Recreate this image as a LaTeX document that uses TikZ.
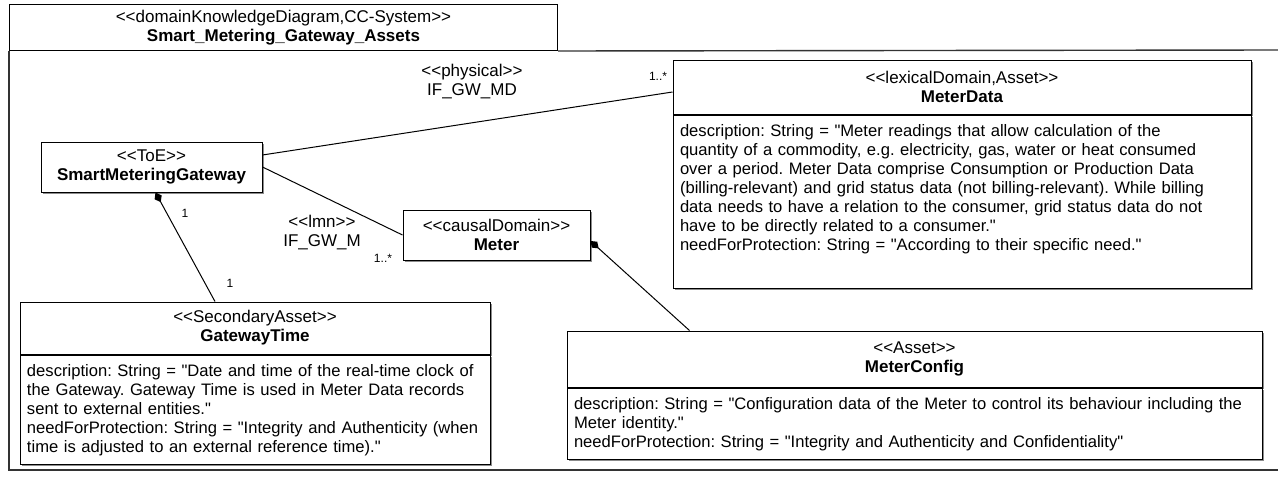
\documentclass[tikz,border=0pt]{standalone}
\usepackage{fontspec}
\setmainfont{Liberation Sans}[Ligatures=TeXOff]
\usetikzlibrary{arrows.meta,shadows}

\newcommand{\stereo}[1]{<{}<#1>{}>}
\frenchspacing

\tikzset{
  box/.style={draw, line width=1pt, fill=white,
    drop shadow={shadow xshift=1.8pt, shadow yshift=-1.8pt, fill=black!45, opacity=1}},
  classtitle/.style={box, align=center, inner sep=0pt},
  classbody/.style={box, anchor=north, align=left, inner xsep=7pt, inner ysep=9pt,
    font=\fontsize{16.6}{19}\selectfont},
  conlabel/.style={align=center, inner sep=1pt},
  mult/.style={font=\fontsize{12}{14}\selectfont, inner sep=1pt},
  frameline/.style={draw=black!80, line width=1.4pt},
  assoc/.style={line width=1pt},
  comp/.style={assoc, {Diamond[length=11pt,width=8pt]}-}
}

\begin{document}
\begin{tikzpicture}[x=1pt, y=-1pt, font=\fontsize{17}{19}\selectfont]
\useasboundingbox (0,0) rectangle (1278,477);
% diagram frame
\node[draw, line width=1pt, minimum width=548pt, minimum height=46pt, anchor=north west,
      align=center, inner sep=0pt] (frame) at (9,4)
  {\stereo{domainKnowledgeDiagram,CC-System}\\\textbf{Smart\_Metering\_Gateway\_Assets}};
\draw[frameline] (frame.south west) -- (frame.south west |- 0,470) -- (1278,470);
\draw[frameline] (frame.south east) -- (1278,50);

% classes
\node[classtitle, minimum width=221pt, minimum height=50pt] (smg) at (151.5,167)
  {\stereo{ToE}\\\textbf{SmartMeteringGateway}};
\node[classtitle, minimum width=187pt, minimum height=50pt] (meter) at (496.5,235)
  {\stereo{causalDomain}\\\textbf{Meter}};

\node[classtitle, minimum width=578pt, minimum height=54pt] (mdt) at (962,87)
  {\stereo{lexicalDomain,Asset}\\\textbf{MeterData}};
\node[classbody, text width=564pt, text depth=143pt] (mdb) at (mdt.south)
  {description: String = "Meter readings that allow calculation of the\\
   quantity of a commodity, e.g. electricity, gas, water or heat consumed\\
   over a period. Meter Data comprise Consumption or Production Data\\
   (billing-relevant) and grid status data (not billing-relevant). While billing\\
   data needs to have a relation to the consumer, grid status data do not\\
   have to be directly related to a consumer."\\
   needForProtection: String = "According to their specific need."};

\node[classtitle, minimum width=470pt, minimum height=52pt] (gtt) at (255,328)
  {\stereo{SecondaryAsset}\\\textbf{GatewayTime}};
\node[classbody, text width=456pt] (gtb) at (gtt.south)
  {description: String = "Date and time of the real-time clock of\\
   the Gateway. Gateway Time is used in Meter Data records\\
   sent to external entities."\\
   needForProtection: String = "Integrity and Authenticity (when\\
   time is adjusted to an external reference time)."};

\node[classtitle, minimum width=695pt, minimum height=56pt] (mct) at (914.5,359)
  {\stereo{Asset}\\\textbf{MeterConfig}};
\node[classbody, text width=681pt] (mcb) at (mct.south)
  {description: String = "Configuration data of the Meter to control its behaviour including the\\
   Meter identity."\\
   needForProtection: String = "Integrity and Authenticity and Confidentiality"};

% connectors
\draw[assoc] ([yshift=12pt]smg.east) -- ([yshift=-5pt]mdt.west);
\draw[assoc] (smg.east) -- (meter.west);
\draw[comp] ([xshift=4pt]smg.south) -- ([xshift=-40pt]gtt.north);
\draw[comp] ([yshift=-6pt]meter.east) -- ([xshift=123pt]mct.north west);

% connector labels
\node[conlabel] (ifgwmd) at (472,82) {\stereo{physical}\\IF\_GW\_MD};
\node[mult] (mdmult) at (658,76) {1..*};
\node[conlabel] (ifgwm) at (322,233) {\stereo{lmn}\\IF\_GW\_M};
\node[mult] (mmult) at (383,258) {1..*};
\node[mult] (smgmult) at (185,213) {1};
\node[mult] (gtmult) at (230,283) {1};
\end{tikzpicture}
\end{document}
